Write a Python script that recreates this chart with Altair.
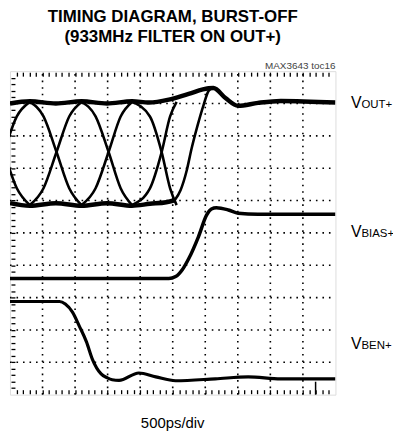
import altair as alt
import pandas as pd

# ---- data, in screen divisions: x = 0..10 (500ps/div), y = 0..10 (bottom to top) ----
# VOUT+ eye envelope (upper and lower levels)
top_x = [0.0, 0.61, 1.41, 2.2, 2.98, 3.75, 4.27, 4.88, 5.49, 6.1, 6.25, 6.62, 7.01, 7.62, 8.32, 10.0]
top_y = [9.0, 9.07, 9.0, 9.07, 9.0, 9.07, 9.03, 9.12, 9.3, 9.47, 9.48, 9.17, 8.93, 9.02, 9.08, 9.03]
bot_x = [0.0, 0.61, 1.41, 2.2, 2.98, 3.75, 4.3, 4.8, 5.06]
bot_y = [5.92, 5.84, 5.92, 5.84, 5.92, 5.84, 5.9, 5.95, 6.01]

# VOUT+ eye transitions (falling / rising)
tr_x = [
    [-0.98, -0.58, -0.19, 0.21, 0.61],
    [0.61, 1.03, 1.43, 1.82, 2.2],
    [2.2, 2.63, 3.03, 3.4, 3.75],
    [3.75, 4.3, 4.66, 4.92, 5.12],
]
fall_y = [9.05, 8.6, 7.5, 6.38, 5.86]
rise_y = [5.86, 6.38, 7.5, 8.6, 9.05]

# VOUT+ final rise after burst-off
fin_x = [5.06, 5.24, 5.43, 5.58, 5.76, 5.95, 6.1, 6.22]
fin_y = [6.01, 6.32, 6.93, 7.61, 8.31, 8.96, 9.39, 9.48]

# VBIAS+
bias_x = [0.0, 4.88, 5.09, 5.3, 5.49, 5.79, 6.04, 6.19, 6.34, 6.71, 7.01, 7.62, 10.0]
bias_y = [3.59, 3.59, 3.65, 3.87, 4.2, 4.88, 5.55, 5.74, 5.78, 5.71, 5.61, 5.58, 5.58]

# VBEN+
ben_x = [0.0, 1.52, 1.7, 1.92, 2.13, 2.35, 2.53, 2.8, 2.99, 3.14, 3.35, 3.96, 4.48, 5.09, 6.31, 7.32, 8.32, 10.0]
ben_y = [2.88, 2.88, 2.8, 2.55, 2.12, 1.63, 1.1, 0.64, 0.52, 0.46, 0.44, 0.67, 0.55, 0.43, 0.49, 0.55, 0.49, 0.49]

# trigger marker position on the bottom edge
trig_x = [9.39]

grid_pos = [1, 2, 3, 4, 5, 6, 7, 8, 9]
minor_ticks = [round(k * 0.2, 1) for k in range(1, 50)]

TITLE1 = "TIMING DIAGRAM, BURST-OFF"
TITLE2 = "(933MHz FILTER ON OUT+)"
TOC = "MAX3643 toc16"
XLABEL = "500ps/div"


def seg(name, xs, ys):
    return pd.DataFrame({"t": xs, "v": ys, "trace": name, "i": list(range(len(xs)))})


env_df = pd.concat([seg("top", top_x, top_y), seg("bot", bot_x, bot_y)])
parts = [seg("final", fin_x, fin_y)]
for k, xs in enumerate(tr_x):
    parts.append(seg(f"fall{k}", xs, fall_y))
    parts.append(seg(f"rise{k}", xs, rise_y))
trans_df = pd.concat(parts)
bias_df = seg("bias", bias_x, bias_y)
ben_df = seg("ben", ben_x, ben_y)
grid_df = pd.DataFrame({"g": grid_pos})
trig_df = pd.DataFrame({"g": trig_x})
one = pd.DataFrame({"a": [0]})

xs = alt.Scale(domain=[0, 10], nice=False, zero=False)
ys = alt.Scale(domain=[0, 10], nice=False, zero=False)

FONT = "Liberation Sans"


def tick_axis(orient):
    return alt.Axis(orient=orient, values=minor_ticks, labels=False, domain=False, grid=False,
                    ticks=True, tickSize=4, tickWidth=1.3, tickColor="black", offset=-5, title=None)


env = alt.Chart(env_df).mark_line(color="black", strokeWidth=4.5, interpolate="monotone", clip=True).encode(
    x=alt.X("t:Q", scale=xs, axis=tick_axis("bottom")),
    y=alt.Y("v:Q", scale=ys, axis=tick_axis("left")),
    detail="trace:N",
    order="i:Q",
)
trans = alt.Chart(trans_df).mark_line(color="black", strokeWidth=2.6, interpolate="monotone", clip=True).encode(
    x=alt.X("t:Q", scale=xs, axis=tick_axis("top")),
    y=alt.Y("v:Q", scale=ys, axis=None),
    detail="trace:N",
    order="i:Q",
)
bias = alt.Chart(bias_df).mark_line(color="black", strokeWidth=3.5, interpolate="monotone", clip=True).encode(
    x=alt.X("t:Q", scale=xs, axis=None),
    y=alt.Y("v:Q", scale=ys, axis=None),
    order="i:Q",
)
ben = alt.Chart(ben_df).mark_line(color="black", strokeWidth=3.2, interpolate="monotone", clip=True).encode(
    x=alt.X("t:Q", scale=xs, axis=None),
    y=alt.Y("v:Q", scale=ys, axis=None),
    order="i:Q",
)

dash = [1.6, 4.96]
vgrid = alt.Chart(grid_df).mark_rule(color="black", strokeWidth=1.6, strokeDash=dash).encode(
    x=alt.X("g:Q", scale=xs, axis=None),
    y=alt.YDatum(0, scale=ys, axis=None),
    y2=alt.Y2Datum(10),
)
hgrid = alt.Chart(grid_df).mark_rule(color="black", strokeWidth=1.6, strokeDash=dash).encode(
    y=alt.Y("g:Q", scale=ys, axis=None),
    x=alt.XDatum(0, scale=xs, axis=None),
    x2=alt.X2Datum(10),
)
trig = alt.Chart(trig_df).mark_rule(color="black", strokeWidth=1.5).encode(
    x=alt.X("g:Q", scale=xs, axis=None),
    y=alt.YDatum(0, scale=ys, axis=None),
    y2=alt.Y2Datum(0.4),
)


def label(text, x, y, size, align="left", weight="normal", color="black"):
    return alt.Chart(one).mark_text(text=text, align=align, baseline="alphabetic", fontSize=size,
                                    font=FONT, fontWeight=weight, color=color).encode(
        x=alt.XDatum(x, scale=xs, axis=None),
        y=alt.YDatum(y, scale=ys, axis=None),
    )


texts = [
    label(TITLE1, 5.0, 11.51, 17, align="center", weight="bold"),
    label(TITLE2, 5.0, 10.9, 17, align="center", weight="bold"),
    label(TOC, 10.0, 10.07, 10, align="right", color="#444"),
    label(XLABEL, 5.0, -1.04, 15, align="center"),
    label("V", 10.48, 8.87, 16),
    label("OUT+", 10.8, 8.87, 11.5),
    label("V", 10.48, 4.88, 16),
    label("BIAS+", 10.8, 4.88, 11.5),
    label("V", 10.48, 1.41, 16),
    label("BEN+", 10.8, 1.41, 11.5),
]

chart = alt.layer(vgrid, hgrid, trig, env, trans, bias, ben, *texts).resolve_axis(
    x="independent", y="independent"
).properties(
    width=328,
    height=326,
    autosize=alt.AutoSizeParams(type="none"),
    padding={"left": 2, "top": 62, "right": 58, "bottom": 40},
).configure_view(stroke="black", strokeWidth=3).configure(background="white")

chart.save("out.html", embed_options={"renderer": "svg", "actions": False})
